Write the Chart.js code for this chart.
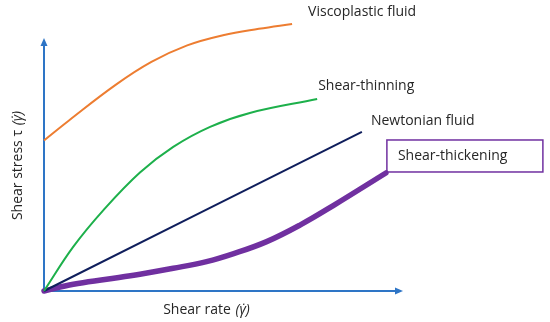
<!DOCTYPE html>
<html>
<head>
<meta charset="utf-8">
<script src="https://cdn.jsdelivr.net/npm/chart.js@4.4.1/dist/chart.umd.min.js"></script>
<style>
  html, body { margin: 0; padding: 0; background: #fff; }
  #wrap { width: 550px; height: 322px; }
</style>
</head>
<body>
<div id="wrap"><canvas id="flowChart"></canvas></div>
<script>
// Shear rate (x) vs shear stress (y), arbitrary units 0..100
const seriesNames = ['Viscoplastic fluid', 'Shear-thinning', 'Newtonian fluid', 'Shear-thickening'];

const viscoX = [0, 6.8, 20, 30, 40, 50, 60, 69.3];
const viscoY = [56.4, 63.7, 77.2, 85.8, 92.0, 95.8, 98.2, 100];

const thinX = [0, 8.2, 16.6, 26.8, 36.1, 46.4, 57.5, 76.3];
const thinY = [0, 16.6, 30.3, 44.4, 54.0, 61.5, 66.7, 71.9];

const newtX = [0, 88.8];
const newtY = [0, 59.6];

const thickX = [0, 8.2, 17.5, 26.8, 36.1, 45.4, 53, 62.2, 71.5, 80.8, 95.5];
const thickY = [0, 2.5, 4.4, 6.3, 8.5, 11.0, 14.0, 18.5, 24.7, 32.0, 44.2];

const xTitle = 'Shear rate ';
const yTitle = 'Shear stress τ ';
const rateSymbol = '(γ̇)';

const colors = ['#ED7D31', '#1DB04B', '#0F1E5C', '#7030A0'];
const axisColor = '#2E75C6';

function pts(xs, ys) {
    return xs.map((x, i) => ({ x: x, y: ys[i] }));
}

// axes with arrow heads, drawn under the curves
const arrowAxes = {
    id: 'arrowAxes',
    beforeDatasetsDraw(chart) {
        const { ctx, scales: { x, y } } = chart;
        const ox = x.getPixelForValue(0);
        const oy = y.getPixelForValue(0);
        const xEnd = x.getPixelForValue(100);
        const yEnd = y.getPixelForValue(94);
        ctx.save();
        ctx.strokeStyle = axisColor;
        ctx.fillStyle = axisColor;
        ctx.lineWidth = 2;
        ctx.beginPath();
        ctx.moveTo(ox, oy);
        ctx.lineTo(xEnd - 4, oy);
        ctx.moveTo(ox, oy);
        ctx.lineTo(ox, yEnd + 4);
        ctx.stroke();
        ctx.beginPath();
        ctx.moveTo(xEnd + 1, oy);
        ctx.lineTo(xEnd - 7, oy - 3.5);
        ctx.lineTo(xEnd - 7, oy + 3.5);
        ctx.closePath();
        ctx.fill();
        ctx.beginPath();
        ctx.moveTo(ox, yEnd - 2);
        ctx.lineTo(ox - 3.5, yEnd + 6);
        ctx.lineTo(ox + 3.5, yEnd + 6);
        ctx.closePath();
        ctx.fill();
        ctx.restore();
    }
};

// curve names next to line ends + axis titles
const curveLabels = {
    id: 'curveLabels',
    afterDatasetsDraw(chart) {
        const { ctx } = chart;
        const font = '14px "Open Sans"';
        const italic = 'italic 14px "Open Sans"';
        const offsets = [[16, -12], [1, -13], [9, -11], [12, -17]];
        ctx.save();
        ctx.font = font;
        ctx.fillStyle = '#262626';
        ctx.textBaseline = 'middle';
        chart.data.datasets.forEach((ds, i) => {
            const meta = chart.getDatasetMeta(i);
            const last = meta.data[meta.data.length - 1];
            const tx = last.x + offsets[i][0];
            const ty = last.y + offsets[i][1];
            if (i === 3) {
                ctx.strokeStyle = colors[3];
                ctx.lineWidth = 1.5;
                ctx.strokeRect(last.x + 1, last.y - 33, 156, 32);
            }
            ctx.fillText(ds.label, tx, ty);
        });

        // x title
        const sx = ctx.measureText(xTitle).width;
        ctx.font = italic;
        const sym = ctx.measureText(rateSymbol).width + 2;
        const start = 207 - (sx + sym) / 2;
        ctx.font = font;
        ctx.fillText(xTitle, start, 310);
        ctx.font = italic;
        ctx.fillText(rateSymbol, start + sx + 1, 310);

        // y title, rotated
        ctx.translate(18, 165);
        ctx.rotate(-Math.PI / 2);
        ctx.font = font;
        const sy = ctx.measureText(yTitle).width;
        const tot = sy + sym;
        ctx.fillText(yTitle, -tot / 2, 0);
        ctx.font = italic;
        ctx.fillText(rateSymbol, -tot / 2 + sy + 1, 0);
        ctx.restore();
    }
};

const ctx = document.getElementById('flowChart').getContext('2d');
new Chart(ctx, {
    type: 'line',
    data: {
        datasets: [
            { label: seriesNames[0], data: pts(viscoX, viscoY), borderColor: colors[0], borderWidth: 2 },
            { label: seriesNames[1], data: pts(thinX, thinY), borderColor: colors[1], borderWidth: 2 },
            { label: seriesNames[2], data: pts(newtX, newtY), borderColor: colors[2], borderWidth: 2 },
            { label: seriesNames[3], data: pts(thickX, thickY), borderColor: colors[3], borderWidth: 5.5, borderCapStyle: 'round' }
        ]
    },
    options: {
        responsive: true,
        maintainAspectRatio: false,
        animation: false,
        layout: { padding: { left: 44, right: 148, top: 24, bottom: 31 } },
        elements: {
            point: { radius: 0 },
            line: { tension: 0.4, fill: false }
        },
        datasets: { line: { clip: false } },
        plugins: {
            legend: { display: false },
            tooltip: { enabled: false }
        },
        scales: {
            x: { type: 'linear', min: 0, max: 100, display: false },
            y: { type: 'linear', min: 0, max: 100, display: false }
        }
    },
    plugins: [arrowAxes, curveLabels]
});
</script>
</body>
</html>
